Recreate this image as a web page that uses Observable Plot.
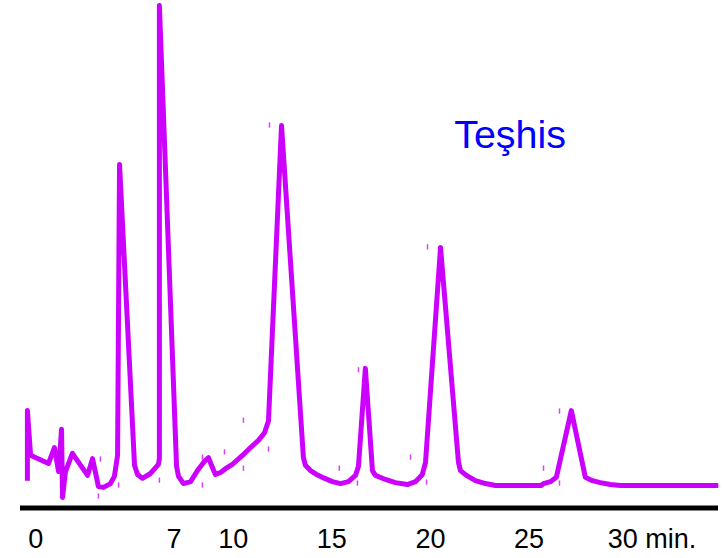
<!DOCTYPE html>
<html>
<head>
<meta charset="utf-8">
<script src="https://cdn.jsdelivr.net/npm/d3@7"></script>
<script src="https://cdn.jsdelivr.net/npm/@observablehq/plot@0.6"></script>
<style>
  html, body { margin: 0; padding: 0; background: #ffffff; }
  #chart svg { display: block; overflow: visible; }
</style>
</head>
<body>
<div id="chart"></div>
<script>
// Chromatogram trace: retention time (min) and detector signal (relative units)
const times = [
  -0.43, -0.43, -0.27, 0.64, 0.94, 1.15, 1.30, 1.35, 1.50, 1.85,
  2.62, 2.87, 3.17, 3.43, 3.78, 3.98, 4.08, 4.14, 4.24, 5.00,
  5.15, 5.40, 5.81, 6.21, 6.26, 6.26, 7.13, 7.23, 7.48, 7.84,
  8.19, 8.54, 8.75, 8.90, 9.10, 9.36, 9.61, 9.96, 10.47, 10.88,
  11.28, 11.59, 11.79, 12.45, 13.56, 13.66, 13.92, 14.22, 14.52, 15.03,
  15.44, 15.84, 16.20, 16.35, 16.70, 17.06, 17.21, 17.72, 18.22, 18.83,
  19.24, 19.59, 19.75, 20.51, 21.42, 21.52, 21.82, 22.28, 22.79, 23.29,
  25.62, 25.73, 26.08, 26.38, 27.14, 27.85, 28.21, 28.61, 29.12, 29.63,
  34.59
];
const signal = [
  1.0, 15.6, 6.3, 4.6, 7.9, 2.9, 11.7, -2.5, 2.9, 6.7,
  2.1, 5.6, -0.2, -0.4, 0.4, 1.9, 4.6, 6.25, 66.9, 4.2,
  2.3, 1.5, 2.5, 4.4, 5.6, 100, 4.0, 1.9, 0.4, 0.8,
  3.1, 5.0, 5.8, 4.2, 2.3, 2.7, 3.5, 4.4, 6.25, 7.9,
  9.4, 11.0, 13.5, 75.0, 5.8, 4.2, 3.1, 2.3, 1.7, 0.8,
  0.4, 0.8, 2.1, 4.0, 24.4, 3.1, 2.1, 1.25, 0.6, 0.2,
  0.8, 2.3, 4.8, 49.6, 4.8, 3.1, 2.1, 1.0, 0.4, 0,
  0, 0.4, 0.8, 1.7, 15.6, 1.7, 1.0, 0.6, 0.2, 0,
  0
];

// Small segment-joint marks visible along the trace
const markTimes = [3.17, 3.27, 4.19, 6.26, 8.44, 8.44, 9.56, 10.52, 10.52, 11.79,
                   11.84, 15.38, 16.30, 16.35, 18.99, 19.80, 19.85, 25.73, 26.54, 26.54];
const markSignal = [-2.3, 5.4, 0, 1.0, 5.8, 0, 6.9, 13.5, 3.5, 7.5,
                    75.0, 3.5, 0.4, 24.0, 5.8, 0.6, 49.6, 3.5, 15.4, 0.4];

// Axis
const tickValues = [0, 7, 10, 15, 20, 25];
const tickLabels = ["0", "7", "10", "15", "20", "25"];
const lastTickValue = 30;
const lastTickLabel = "30 min.";
const axisStart = -0.78;
const axisEnd = 34.6;
const axisLevel = -4.69;

// Title
const titleText = "Teşhis";
const titleTime = 21.2;
const titleSignal = 73.0;

const trace = times.map((t, i) => ({t, v: signal[i]}));
const marksData = markTimes.map((t, i) => ({t, v: markSignal[i]}));
const ticks = tickValues.map((t, i) => ({t, label: tickLabels[i]}));

const FONT = "'Liberation Sans', Arial, Helvetica, sans-serif";
const PURPLE = "#cc00ff";

const chart = Plot.plot({
  width: 722,
  height: 558,
  marginTop: 5,
  marginBottom: 50.5,
  marginLeft: 20,
  marginRight: 4,
  style: {background: "#ffffff", fontFamily: FONT},
  x: {domain: [axisStart, axisEnd], axis: null},
  y: {domain: [axisLevel, 100], axis: null},
  marks: [
    Plot.ruleX(marksData, {x: "t", y1: d => d.v - 0.55, y2: d => d.v + 0.55, stroke: PURPLE, strokeWidth: 1.5, strokeOpacity: 0.75}),
    Plot.line(trace, {x: "t", y: "v", stroke: PURPLE, strokeWidth: 5, strokeLinejoin: "round", strokeLinecap: "butt", curve: "linear"}),
    Plot.ruleY([axisLevel], {x1: axisStart, x2: axisEnd, stroke: "#000000", strokeWidth: 5}),
    Plot.text(ticks, {x: "t", y: axisLevel, text: "label", dy: 31, fontSize: 27, fill: "#000000", textAnchor: "middle", fontFamily: FONT}),
    Plot.text([lastTickLabel], {x: lastTickValue, y: axisLevel, text: d => d, dy: 31, dx: -20, fontSize: 27, fill: "#000000", textAnchor: "start", fontFamily: FONT}),
    Plot.text([titleText], {x: titleTime, y: titleSignal, text: d => d, fontSize: 39.5, fill: "#0000ff", textAnchor: "start", fontFamily: FONT})
  ]
});
document.getElementById("chart").appendChild(chart);
</script>
</body>
</html>
